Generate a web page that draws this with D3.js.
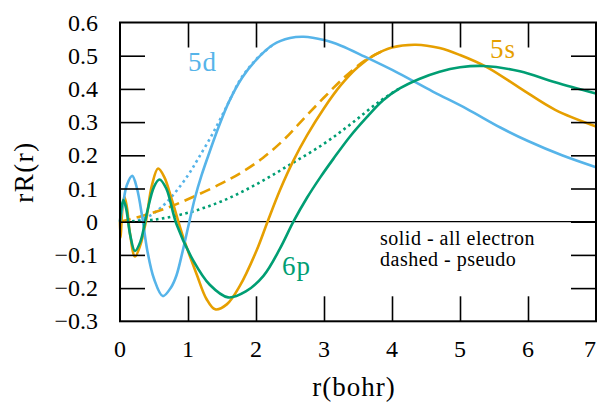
<!DOCTYPE html>
<html>
<head>
<meta charset="utf-8">
<script src="https://cdn.jsdelivr.net/npm/d3@7"></script>
<style>
  html, body { margin: 0; padding: 0; background: #fff; }
  svg { display: block; }
  text { font-family: "Liberation Serif", "DejaVu Serif", serif; fill: #000; }
</style>
</head>
<body>
<svg id="chart" width="597" height="406"></svg>
<script>
// Radial functions r·R(r) of the 5s, 5d and 6p orbitals, [r (bohr), rR(r)]
const s5_all = [[0,0],[0.008,-0.048],[0.02,-0.01],[0.04,0.05],[0.065,0.075],[0.1,0.045],[0.15,-0.04],[0.22,-0.105],[0.3,-0.07],[0.38,0.0],[0.47,0.11],[0.56,0.16],[0.65,0.135],[0.76,0.068],[0.93,-0.047],[1.13,-0.16],[1.27,-0.232],[1.4,-0.264],[1.57,-0.249],[1.76,-0.194],[2.01,-0.086],[2.17,0],[2.35,0.094],[2.55,0.184],[2.75,0.26],[3.0,0.342],[3.25,0.412],[3.5,0.466],[3.75,0.503],[4.0,0.525],[4.35,0.533],[4.7,0.523],[5.0,0.502],[5.4,0.465],[5.9,0.4],[6.4,0.337],[7.0,0.287]];
const s5_pseudo = [[0,0],[0.3,0.016],[0.7,0.042],[1.1,0.077],[1.5,0.116],[1.8,0.15],[2.1,0.192],[2.4,0.245],[2.7,0.31],[3.0,0.374],[3.3,0.435],[3.6,0.485],[3.9,0.518]];
const d5_all = [[0,0],[0.05,0.06],[0.1,0.11],[0.18,0.138],[0.25,0.1],[0.33,0.01],[0.4,-0.085],[0.5,-0.172],[0.63,-0.224],[0.75,-0.198],[0.83,-0.162],[0.92,-0.09],[1.02,0],[1.1,0.07],[1.2,0.14],[1.3,0.2],[1.45,0.285],[1.6,0.36],[1.8,0.435],[2.0,0.487],[2.25,0.533],[2.5,0.553],[2.7,0.557],[3.0,0.547],[3.25,0.53],[3.6,0.497],[4.1,0.447],[4.6,0.392],[5.1,0.34],[5.6,0.283],[6.0,0.243],[6.5,0.2],[7.0,0.164]];
const d5_pseudo = [[0,0],[0.2,0.002],[0.4,0.014],[0.6,0.042],[0.8,0.085],[1.0,0.14],[1.15,0.19],[1.37,0.268],[1.57,0.348],[1.76,0.425],[1.92,0.47],[2.05,0.499],[2.25,0.533]];
const p6_all = [[0,0],[0.02,0.04],[0.05,0.065],[0.09,0.04],[0.15,-0.04],[0.22,-0.088],[0.3,-0.06],[0.4,0.03],[0.5,0.105],[0.58,0.127],[0.68,0.1],[0.83,-0.007],[1.08,-0.118],[1.32,-0.19],[1.59,-0.228],[1.85,-0.21],[2.11,-0.163],[2.35,-0.082],[2.55,0],[2.75,0.072],[2.95,0.135],[3.14,0.19],[3.38,0.256],[3.63,0.315],[3.87,0.366],[4.12,0.402],[4.4,0.43],[4.7,0.452],[5.0,0.465],[5.35,0.469],[5.88,0.453],[6.4,0.42],[7.0,0.386]];
const p6_pseudo = [[0,0],[0.5,0.006],[1.0,0.027],[1.5,0.062],[2.0,0.112],[2.5,0.172],[3.0,0.235],[3.4,0.295],[3.8,0.36],[4.12,0.403]];

const xTicks = [0,1,2,3,4,5,6,7];
const yTicks = [-0.3,-0.2,-0.1,0,0.1,0.2,0.3,0.4,0.5,0.6];

const colors = { s5: "#E69F00", d5: "#56B4E9", p6: "#009E73" };

const svg = d3.select("#chart");
const W = 597, H = 406;
const m = { left: 120, right: 1, top: 22.5, bottom: 84.7 };
const x = d3.scaleLinear().domain([0, 7]).range([m.left, W - m.right]);
const y = d3.scaleLinear().domain([-0.3, 0.6]).range([H - m.bottom, m.top]);

// zero line
svg.append("line")
  .attr("x1", x(0)).attr("x2", x(7))
  .attr("y1", y(0)).attr("y2", y(0))
  .attr("stroke", "#000").attr("stroke-width", 1.2);

// curves
const line = d3.line().x(d => x(d[0])).y(d => y(d[1])).curve(d3.curveCatmullRom.alpha(0.5));
const plot = svg.append("g");
function draw(data, color, dash) {
  plot.append("path").datum(data)
    .attr("d", line)
    .attr("fill", "none")
    .attr("stroke", color)
    .attr("stroke-width", 2.6)
    .attr("stroke-dasharray", dash || null)
    .attr("stroke-linejoin", "round");
}
draw(d5_pseudo, colors.d5, "2.6 3.4");
draw(p6_pseudo, colors.p6, "2.6 3.4");
draw(s5_pseudo, colors.s5, "11 6");
draw(s5_all, colors.s5);
draw(d5_all, colors.d5);
draw(p6_all, colors.p6);

// inward ticks on all four sides
const tickLen = 25;
const xInner = xTicks.slice(1, -1), yInner = yTicks.slice(1, -1);
const axisBottom = d3.axisBottom(x).tickValues(xInner).tickSizeInner(-tickLen).tickSizeOuter(0).tickFormat("");
const axisTop = d3.axisTop(x).tickValues(xInner).tickSizeInner(-tickLen).tickSizeOuter(0).tickFormat("");
const axisLeft = d3.axisLeft(y).tickValues(yInner).tickSizeInner(-tickLen).tickSizeOuter(0).tickFormat("");
const axisRight = d3.axisRight(y).tickValues(yInner).tickSizeInner(-tickLen).tickSizeOuter(0).tickFormat("");
function styleAxis(g) {
  g.select(".domain").remove();
  g.selectAll(".tick line").attr("stroke", "#000").attr("stroke-width", 1.6);
}
svg.append("g").attr("transform", `translate(0,${y(-0.3)})`).call(axisBottom).call(styleAxis);
svg.append("g").attr("transform", `translate(0,${y(0.6)})`).call(axisTop).call(styleAxis);
svg.append("g").attr("transform", `translate(${x(0)},0)`).call(axisLeft).call(styleAxis);
svg.append("g").attr("transform", `translate(${x(7)},0)`).call(axisRight).call(styleAxis);

// frame
svg.append("rect")
  .attr("x", x(0)).attr("y", y(0.6))
  .attr("width", x(7) - x(0)).attr("height", y(-0.3) - y(0.6))
  .attr("fill", "none").attr("stroke", "#000").attr("stroke-width", 2);

// tick labels (the last one is kept inside the page edge)
svg.append("g").selectAll("text").data(xTicks).join("text")
  .attr("x", d => d === 7 ? x(d) : x(d))
  .attr("y", 357)
  .attr("text-anchor", d => d === 7 ? "end" : "middle")
  .attr("font-size", 24)
  .text(d => d);
svg.append("g").selectAll("text").data(yTicks).join("text")
  .attr("x", 98).attr("y", d => y(d)).attr("dy", "0.34em")
  .attr("text-anchor", "end").attr("font-size", 24)
  .text(d => d === 0 ? "0" : d3.format(".1f")(d));

// axis titles
svg.append("text")
  .attr("x", (x(0) + x(7)) / 2 - 4).attr("y", 396)
  .attr("text-anchor", "middle").attr("font-size", 27)
  .attr("letter-spacing", 1)
  .text("r(bohr)");
svg.append("text")
  .attr("transform", `translate(33,${(y(0.6) + y(-0.3)) / 2}) rotate(-90)`)
  .attr("text-anchor", "middle").attr("font-size", 27)
  .attr("letter-spacing", 1.5)
  .text("rR(r)");

// orbital labels
svg.append("text").attr("x", 188).attr("y", 71).attr("font-size", 27)
  .attr("letter-spacing", 1).style("fill", colors.d5).text("5d");
svg.append("text").attr("x", 490).attr("y", 58).attr("font-size", 27)
  .attr("letter-spacing", 1).style("fill", colors.s5).text("5s");
svg.append("text").attr("x", 282).attr("y", 275).attr("font-size", 27)
  .attr("letter-spacing", 1).style("fill", colors.p6).text("6p");

// line-style note
svg.append("text").attr("x", 380).attr("y", 245).attr("font-size", 20)
  .attr("letter-spacing", 0.5).text("solid - all electron");
svg.append("text").attr("x", 380).attr("y", 266).attr("font-size", 20)
  .attr("letter-spacing", 0.5).text("dashed - pseudo");
</script>
</body>
</html>
